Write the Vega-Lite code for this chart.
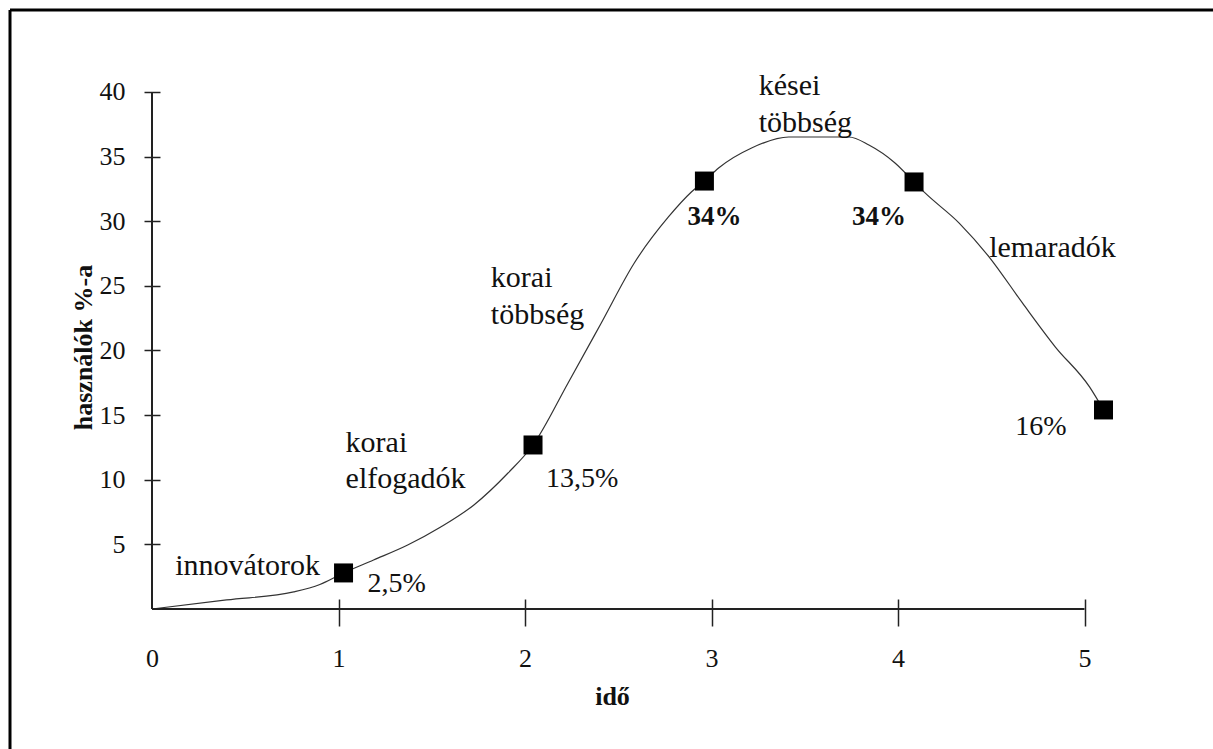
{
  "$schema": "https://vega.github.io/schema/vega-lite/v6.json",
  "width": 1203,
  "height": 739,
  "autosize": {"type": "none"},
  "padding": {"left": 10, "top": 10, "right": 0, "bottom": 0},
  "background": "white",
  "config": {
    "view": {"stroke": null},
    "font": "Liberation Serif",
    "text": {"font": "Liberation Serif", "color": "#111"}
  },
  "datasets": {
    "one": [{"id": 1}],
    "curve": [
      {"x": 0, "y": 0}, {"x": 0.4, "y": 0.7}, {"x": 0.76, "y": 1.32}, {"x": 0.9, "y": 1.9},
      {"x": 1.027, "y": 2.79}, {"x": 1.188, "y": 3.79}, {"x": 1.371, "y": 4.95}, {"x": 1.548, "y": 6.34},
      {"x": 1.726, "y": 8.05}, {"x": 1.909, "y": 10.52}, {"x": 2.043, "y": 12.69}, {"x": 2.231, "y": 17.49},
      {"x": 2.409, "y": 22.13}, {"x": 2.586, "y": 26.77}, {"x": 2.769, "y": 30.33}, {"x": 2.892, "y": 32.26},
      {"x": 2.962, "y": 33.11}, {"x": 3.038, "y": 34.12}, {"x": 3.215, "y": 35.67}, {"x": 3.414, "y": 36.52},
      {"x": 3.737, "y": 36.52}, {"x": 3.844, "y": 35.9}, {"x": 3.984, "y": 34.51}, {"x": 4.086, "y": 33.04},
      {"x": 4.145, "y": 32.19}, {"x": 4.328, "y": 29.86}, {"x": 4.489, "y": 27.23}, {"x": 4.667, "y": 23.68},
      {"x": 4.844, "y": 20.27}, {"x": 5.027, "y": 17.18}, {"x": 5.102, "y": 15.4}
    ],
    "points": [
      {"x": 1.027, "y": 2.79}, {"x": 2.043, "y": 12.69}, {"x": 2.962, "y": 33.11},
      {"x": 4.086, "y": 33.04}, {"x": 5.102, "y": 15.4}
    ],
    "labels": [
      {"x": 0.124, "y": 2.63, "label": "innovátorok", "kind": "phase"},
      {"x": 1.038, "y": 12.15, "label": "korai", "kind": "phase"},
      {"x": 1.038, "y": 9.36, "label": "elfogadók", "kind": "phase"},
      {"x": 1.817, "y": 24.9, "label": "korai", "kind": "phase"},
      {"x": 1.817, "y": 22.05, "label": "többség", "kind": "phase"},
      {"x": 3.253, "y": 39.77, "label": "kései", "kind": "phase"},
      {"x": 3.253, "y": 36.9, "label": "többség", "kind": "phase"},
      {"x": 4.489, "y": 27.23, "label": "lemaradók", "kind": "phase"},
      {"x": 1.156, "y": 1.32, "label": "2,5%", "kind": "share"},
      {"x": 2.113, "y": 9.44, "label": "13,5%", "kind": "share"},
      {"x": 2.871, "y": 29.71, "label": "34%", "kind": "peak"},
      {"x": 3.753, "y": 29.71, "label": "34%", "kind": "peak"},
      {"x": 4.629, "y": 13.46, "label": "16%", "kind": "share"}
    ]
  },
  "layer": [
    {
      "data": {"name": "curve"},
      "mark": {"type": "line", "interpolate": "monotone", "color": "#333", "strokeWidth": 1.2},
      "encoding": {
        "x": {
          "field": "x", "type": "quantitative",
          "scale": {"domain": [-0.7614, 5.689], "nice": false, "zero": false},
          "axis": {
            "values": [0, 1, 2, 3, 4, 5], "format": "d", "domain": false, "grid": false,
            "tickSize": 27, "tickWidth": 1.5, "tickColor": "#222",
            "tickOpacity": {"condition": {"test": "datum.value === 0", "value": 0}, "value": 1},
            "offset": -150, "labelPadding": 19, "labelFontSize": 26, "labelFont": "Liberation Serif",
            "labelColor": "#111", "labelFlush": false, "labelOverlap": false,
            "title": "idő", "titleFont": "Liberation Serif", "titleFontSize": 26, "titleFontWeight": "bold",
            "titleColor": "#111", "titlePadding": 12, "titleX": 602, "titleAlign": "center"
          }
        },
        "y": {
          "field": "y", "type": "quantitative",
          "scale": {"domain": [-10.832, 46.344], "nice": false, "zero": false},
          "axis": {
            "values": [5, 10, 15, 20, 25, 30, 35, 40], "format": "d", "domain": false, "grid": false,
            "tickSize": 16, "tickWidth": 1.5, "tickColor": "#222",
            "offset": -150, "labelPadding": 19, "labelFontSize": 26, "labelFont": "Liberation Serif",
            "labelColor": "#111", "labelOverlap": false,
            "title": "használók %-a", "titleFont": "Liberation Serif", "titleFontSize": 26, "titleFontWeight": "bold",
            "titleColor": "#111", "titlePadding": 3, "titleY": 337
          }
        }
      }
    },
    {
      "data": {"name": "one"},
      "mark": {"type": "rule", "color": "#222", "strokeWidth": 2},
      "encoding": {
        "x": {"datum": 0, "type": "quantitative"},
        "x2": {"datum": 5},
        "y": {"datum": 0, "type": "quantitative"}
      }
    },
    {
      "data": {"name": "one"},
      "mark": {"type": "rule", "color": "#222", "strokeWidth": 2},
      "encoding": {
        "x": {"datum": 0, "type": "quantitative"},
        "y": {"datum": 0, "type": "quantitative"},
        "y2": {"datum": 40}
      }
    },
    {
      "data": {"name": "one"},
      "mark": {"type": "rule", "color": "black", "strokeWidth": 3},
      "encoding": {
        "x": {"datum": -0.7614, "type": "quantitative"}
      }
    },
    {
      "data": {"name": "one"},
      "mark": {"type": "rule", "color": "black", "strokeWidth": 3},
      "encoding": {
        "y": {"datum": 46.344, "type": "quantitative"}
      }
    },
    {
      "data": {"name": "points"},
      "mark": {"type": "point", "shape": "square", "filled": true, "color": "black", "opacity": 1, "size": 361},
      "encoding": {
        "x": {"field": "x", "type": "quantitative"},
        "y": {"field": "y", "type": "quantitative"}
      }
    },
    {
      "data": {"name": "labels"},
      "transform": [{"filter": "datum.kind === 'phase'"}],
      "mark": {"type": "text", "align": "left", "baseline": "alphabetic", "fontSize": 30, "font": "Liberation Serif", "color": "#111"},
      "encoding": {
        "x": {"field": "x", "type": "quantitative"},
        "y": {"field": "y", "type": "quantitative"},
        "text": {"field": "label"}
      }
    },
    {
      "data": {"name": "labels"},
      "transform": [{"filter": "datum.kind === 'share'"}],
      "mark": {"type": "text", "align": "left", "baseline": "alphabetic", "fontSize": 28, "font": "Liberation Serif", "color": "#111"},
      "encoding": {
        "x": {"field": "x", "type": "quantitative"},
        "y": {"field": "y", "type": "quantitative"},
        "text": {"field": "label"}
      }
    },
    {
      "data": {"name": "labels"},
      "transform": [{"filter": "datum.kind === 'peak'"}],
      "mark": {"type": "text", "align": "left", "baseline": "alphabetic", "fontSize": 27, "fontWeight": "bold", "font": "Liberation Serif", "color": "#111"},
      "encoding": {
        "x": {"field": "x", "type": "quantitative"},
        "y": {"field": "y", "type": "quantitative"},
        "text": {"field": "label"}
      }
    }
  ]
}
